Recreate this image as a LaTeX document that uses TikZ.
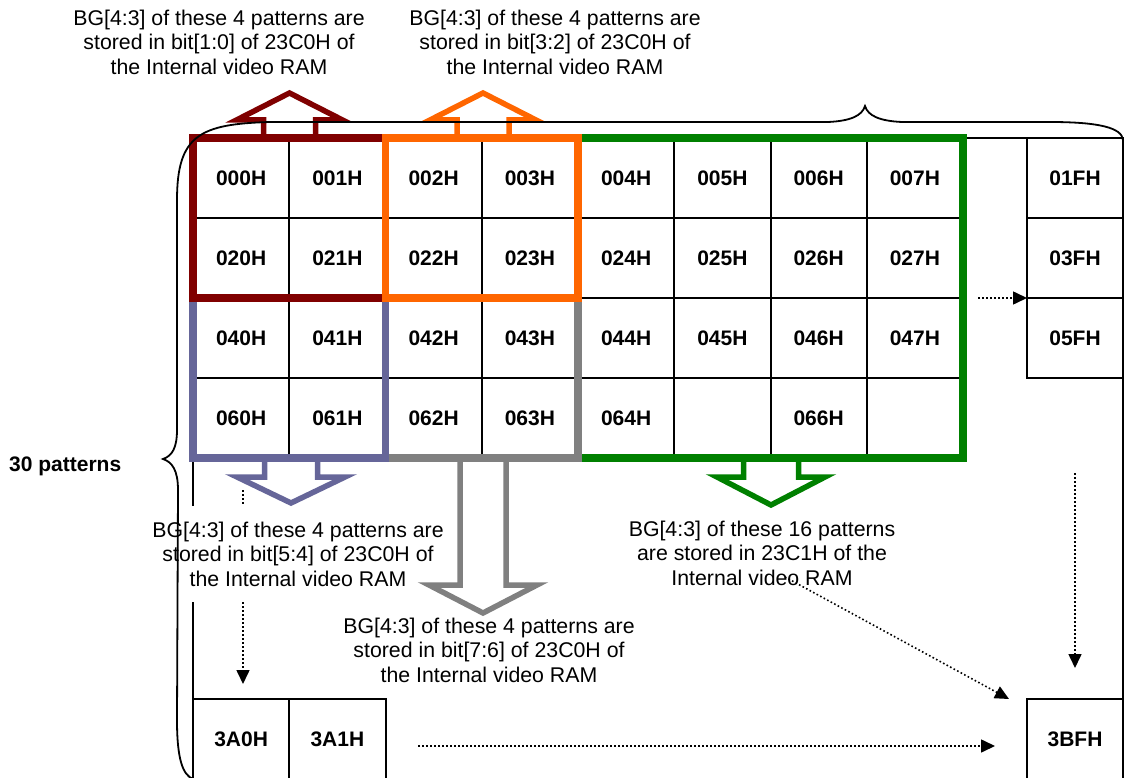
\documentclass[tikz,border=0pt]{standalone}
\usepackage{fontspec}
\setmainfont{Liberation Sans}
\usetikzlibrary{arrows.meta}

\definecolor{cRed}{HTML}{800000}
\definecolor{cOrange}{HTML}{FF6600}
\definecolor{cGreen}{HTML}{008000}
\definecolor{cPurple}{HTML}{666699}
\definecolor{cGray}{HTML}{808080}

% outline block arrow: x centre, shaft start, head base, tip, shaft half width, head half width
\newcommand{\blockarrow}[7]{%
  \draw[blockarrow,draw=#1] ({#2-#6},#3) -- ({#2-#6},#4) -- ({#2-#7},#4) -- (#2,#5)
    -- ({#2+#7},#4) -- ({#2+#6},#4) -- ({#2+#6},#3);}

\begin{document}
\begin{tikzpicture}[x=1pt,y=-1pt,
  thin/.style={line width=2pt,black},
  cell/.style={draw,line width=2pt,outer sep=0pt,inner sep=0pt,
    minimum width=96.25pt,minimum height=80pt,
    font=\fontsize{21}{24}\selectfont\bfseries},
  group/.style={line width=7.5pt,line join=miter},
  blockarrow/.style={line width=5.5pt,fill=white,line join=miter,miter limit=10},
  note/.style={font=\fontsize{21.3}{24.5}\selectfont,align=center,inner sep=2pt},
  flow/.style={line width=1.6pt,dash pattern=on 1.6pt off 2.4pt,
    -{Triangle[length=14pt,width=13pt]}},
  brace/.style={line width=1.8pt,black},
]
\useasboundingbox (0,0) rectangle (1141,778);
\clip (0,0) rectangle (1141,778);

% pattern cells 000H ... 067H
\foreach \c in {0,...,7}{
  \foreach \r/\p in {0/0,1/2,2/4,3/6}{
    \node[cell] (n\p\c) at ({193+96.25*(\c+0.5)},{178+80*\r})
      {\ifnum\p\c=65 \else\ifnum\p\c=67 \else 0\p\c H\fi\fi};
  }
}
% last column of the map
\node[cell,minimum width=96pt] (r1F) at (1075,178) {01FH};
\node[cell,minimum width=96pt] (r3F) at (1075,258) {03FH};
\node[cell,minimum width=96pt] (r5F) at (1075,338) {05FH};
% last row of the map
\node[cell] (b3A0) at (241.125,739) {3A0H};
\node[cell] (b3A1) at (337.375,739) {3A1H};
\node[cell,minimum width=96pt] (b3BF) at (1075,739) {3BFH};

% outline of the whole map
\draw[thin] (n07.north east) -- (r1F.north west);
\draw[thin] (n60.south west) -- (b3A0.north west);
\draw[thin] (r5F.south east) -- (b3BF.north east);

% dotted continuation arrows
\coordinate (d1s) at (978,298);
\draw[flow] (d1s) -- (r5F.north west);
\coordinate (d2s) at (1075,473);
\coordinate (d2e) at (1075,668);
\draw[flow] (d2s) -- (d2e);
\coordinate (d3s) at (243,490);
\coordinate (d3e) at (243,684);
\draw[flow] (d3s) -- (d3e);
\coordinate (d4s) at (418,746);
\coordinate (d4e) at (995,746);
\draw[flow] (d4s) -- (d4e);

% note for the lower left group (covers the lines behind it)
\node[note,fill=white,minimum height=96pt,inner xsep=6pt] (tPurple) at (298,554)
  {BG[4:3] of these 4 patterns are\\stored in bit[5:4] of 23C0H of\\the Internal video RAM};

% block arrows
\blockarrow{cRed}{289.5}{138}{120}{93}{26}{53}
\blockarrow{cOrange}{483}{138}{120}{93}{26}{53}
\blockarrow{cPurple}{291}{458}{477}{503}{26.5}{54}
\blockarrow{cGray}{483}{458}{585}{613}{23}{54}
\blockarrow{cGreen}{771}{458}{477}{505}{27.5}{54}

% pattern groups
\draw[group,cGreen] (n04.north west) rectangle (n67.south east);
\draw[group,cGray] (n42.north west) rectangle (n63.south east);
\draw[group,cPurple] (n40.north west) rectangle (n61.south east);
\draw[group,cRed] (n00.north west) rectangle (n21.south east);
\draw[group,cOrange] (n02.north west) rectangle (n23.south east);

% braces
\draw[brace] (193,779) .. controls (183,775) and (177,760) .. (177,720)
  -- (178,490) .. controls (178,470) and (172,462) .. (163,459)
  .. controls (172,456) and (177,448) .. (177,430)
  -- (177,200) .. controls (177,135) and (200,124) .. (270,122)
  -- (828,122) .. controls (850,121) and (862,116) .. (865,106)
  .. controls (868,116) and (880,121) .. (902,122)
  -- (1050,122) .. controls (1100,122) and (1122,128) .. (1123,140);

% notes
\node[note] (tRed) at (219,42)
  {BG[4:3] of these 4 patterns are\\stored in bit[1:0] of 23C0H of\\the Internal video RAM};
\node[note] (tOrange) at (555,42)
  {BG[4:3] of these 4 patterns are\\stored in bit[3:2] of 23C0H of\\the Internal video RAM};
\node[note] (tGray) at (489,650)
  {BG[4:3] of these 4 patterns are\\stored in bit[7:6] of 23C0H of\\the Internal video RAM};
\node[note] (tGreen) at (762,553)
  {BG[4:3] of these 16 patterns\\are stored in 23C1H of the\\Internal video RAM};
\node[font=\fontsize{21}{24}\selectfont\bfseries,anchor=west,inner sep=0pt] (count)
  at (9,466) {30 patterns};

\coordinate (d5s) at (785,577);
\coordinate (d5e) at (1009,699);
\draw[flow] (d5s) -- (d5e);
\end{tikzpicture}
\end{document}
